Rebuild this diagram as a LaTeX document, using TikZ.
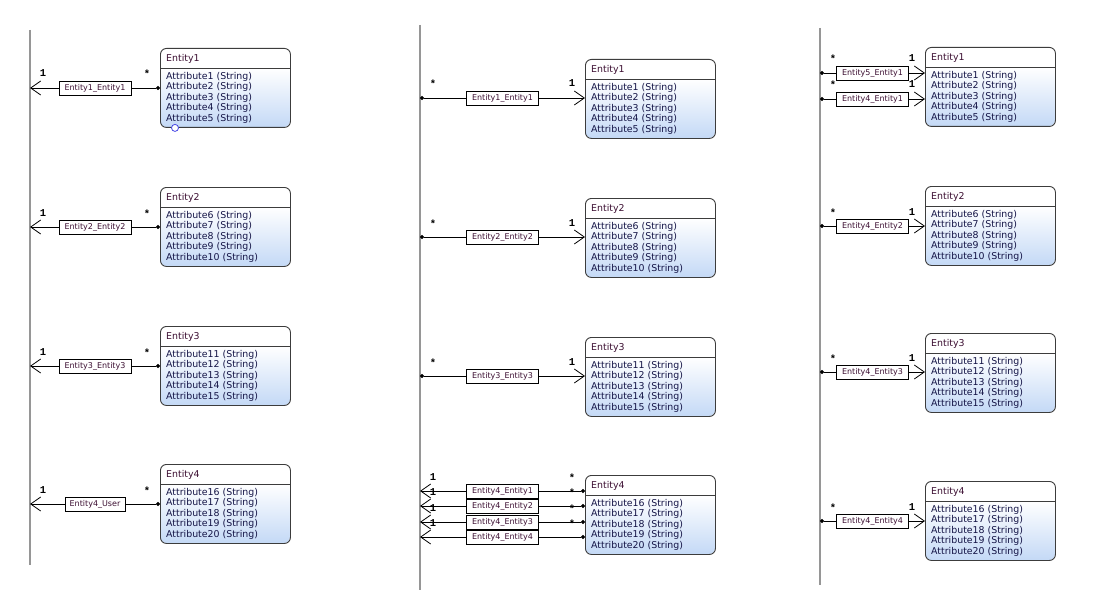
\documentclass[tikz,border=0pt]{standalone}
\usepackage{fontspec}
\setmainfont{DejaVu Sans}
\newfontfamily\multfont{Liberation Mono}
\usetikzlibrary{arrows.meta,calc}

\definecolor{laneclr}{RGB}{150,150,150}
\definecolor{entline}{RGB}{60,60,60}
\definecolor{entblue}{RGB}{196,217,246}
\definecolor{titleclr}{RGB}{60,15,50}
\definecolor{attrclr}{RGB}{20,20,70}
\definecolor{relclr}{RGB}{60,15,50}
\definecolor{portclr}{RGB}{70,70,230}

\tikzset{
  lane/.style={draw=laneclr, line width=1.6pt},
  entbox/.style={draw=entline, line width=0.9pt, rounded corners=6pt,
    minimum width=130pt, minimum height=79pt, inner sep=0pt},
  enttitle/.style={font=\fontsize{9.4}{10}\selectfont, text=titleclr,
    inner sep=0pt, anchor=base west},
  attr/.style={font=\fontsize{9.4}{10}\selectfont, text=attrclr,
    inner sep=0pt, anchor=base west},
  conn/.style={draw=black, line width=0.8pt,
    {Circle[length=4pt]}-{Straight Barb[length=10pt,width=14pt]}},
  relbox/.style={draw=black, line width=0.8pt, fill=white, minimum height=14pt,
    inner sep=1pt, text=relclr, font=\fontsize{8}{9}\selectfont},
  mult/.style={font=\multfont\bfseries\fontsize{10.5}{11}\selectfont,
    inner sep=0pt, anchor=base},
  port/.style={circle, draw=portclr, fill=white, line width=0.8pt,
    minimum size=7pt, inner sep=0pt},
}

% entity box: #1 name, #2 x, #3 y (top left), #4 title, #5 first attribute number
\newcommand\entity[5]{%
  \begin{scope}
    \clip[rounded corners=6pt] (#2,#3) rectangle ++(130,79);
    \fill[white] (#2,#3) rectangle ++(130,20);
    \shade[top color=white, bottom color=entblue] (#2,#3+20) rectangle ++(130,59);
  \end{scope}
  \node[entbox, anchor=north west] (#1) at (#2,#3) {};
  \draw[draw=entline, line width=0.9pt]
    ([yshift=-20pt]#1.north west) -- ([yshift=-20pt]#1.north east);
  \node[enttitle] (#1-title) at ([xshift=6pt,yshift=-13.5pt]#1.north west) {#4};
  \foreach \r in {0,...,4}{%
    \pgfmathtruncatemacro\attrno{#5+\r}%
    \pgfmathsetmacro\attrdy{31.5+10.4*\r}%
    \node[attr] (#1-a\r) at ([xshift=6pt,yshift=-\attrdy pt]#1.north west)
      {Attribute\attrno\ (String)};
  }%
}

% association: #1 name, #2 many end (dot), #3 one end (arrow), #4 label, #5 label width
\newcommand\rel[5]{%
  \draw[conn] (#2) -- node[relbox, minimum width=#5] (#1) {#4} (#3);
  \node[mult] (#1-many) at ($(#2)!13pt!(#3)+(0,-10)$) {*};
  \node[mult] (#1-one) at ($(#3)!13pt!(#2)+(0,-11)$) {1};
}

\begin{document}
\begin{tikzpicture}[x=1pt,y=-1pt]
\useasboundingbox (0,0) rectangle (1094,615);

% lanes
\coordinate (L1top) at (30,30);  \coordinate (L1bot) at (30,565);
\coordinate (L2top) at (420,25); \coordinate (L2bot) at (420,590);
\coordinate (L3top) at (820,28); \coordinate (L3bot) at (820,585);
\draw[lane] (L1top) -- (L1bot);
\draw[lane] (L2top) -- (L2bot);
\draw[lane] (L3top) -- (L3bot);

% entities
\entity{a1}{160}{48}{Entity1}{1}
\entity{a2}{160}{187}{Entity2}{6}
\entity{a3}{160}{326}{Entity3}{11}
\entity{a4}{160}{464}{Entity4}{16}
\entity{b1}{585}{59}{Entity1}{1}
\entity{b2}{585}{198}{Entity2}{6}
\entity{b3}{585}{337}{Entity3}{11}
\entity{b4}{585}{475}{Entity4}{16}
\entity{c1}{925}{47}{Entity1}{1}
\entity{c2}{925}{186}{Entity2}{6}
\entity{c3}{925}{333}{Entity3}{11}
\entity{c4}{925}{481}{Entity4}{16}

\node[port] (a1-port) at ([xshift=15pt]a1.south west) {};

% left lane associations
\coordinate (a1-lane) at (30,88);
\coordinate (a2-lane) at (30,227);
\coordinate (a3-lane) at (30,366);
\coordinate (a4-lane) at (30,504);
\rel{a1-rel}{a1.west |- a1-lane}{a1-lane}{Entity1\_Entity1}{72pt}
\rel{a2-rel}{a2.west |- a2-lane}{a2-lane}{Entity2\_Entity2}{72pt}
\rel{a3-rel}{a3.west |- a3-lane}{a3-lane}{Entity3\_Entity3}{72pt}
\rel{a4-rel}{a4.west |- a4-lane}{a4-lane}{Entity4\_User}{60pt}

% middle lane associations
\coordinate (b1-lane) at (420,98);
\coordinate (b2-lane) at (420,237);
\coordinate (b3-lane) at (420,376);
\rel{b1-rel}{b1-lane}{b1.west |- b1-lane}{Entity1\_Entity1}{72pt}
\rel{b2-rel}{b2-lane}{b2.west |- b2-lane}{Entity2\_Entity2}{72pt}
\rel{b3-rel}{b3-lane}{b3.west |- b3-lane}{Entity3\_Entity3}{72pt}
\coordinate (b4-lane1) at (420,491);
\coordinate (b4-lane2) at (420,506);
\coordinate (b4-lane3) at (420,522);
\coordinate (b4-lane4) at (420,537);
\rel{b4-rel1}{b4.west |- b4-lane1}{b4-lane1}{Entity4\_Entity1}{72pt}
\rel{b4-rel2}{b4.west |- b4-lane2}{b4-lane2}{Entity4\_Entity2}{72pt}
\rel{b4-rel3}{b4.west |- b4-lane3}{b4-lane3}{Entity4\_Entity3}{72pt}
\rel{b4-rel4}{b4.west |- b4-lane4}{b4-lane4}{Entity4\_Entity4}{72pt}

% right lane associations
\coordinate (c1-lane1) at (820,73);
\coordinate (c1-lane2) at (820,99);
\coordinate (c2-lane) at (820,226);
\coordinate (c3-lane) at (820,372);
\coordinate (c4-lane) at (820,521);
\rel{c1-rel1}{c1-lane1}{c1.west |- c1-lane1}{Entity5\_Entity1}{72pt}
\rel{c1-rel2}{c1-lane2}{c1.west |- c1-lane2}{Entity4\_Entity1}{72pt}
\rel{c2-rel}{c2-lane}{c2.west |- c2-lane}{Entity4\_Entity2}{72pt}
\rel{c3-rel}{c3-lane}{c3.west |- c3-lane}{Entity4\_Entity3}{72pt}
\rel{c4-rel}{c4-lane}{c4.west |- c4-lane}{Entity4\_Entity4}{72pt}
\end{tikzpicture}
\end{document}
